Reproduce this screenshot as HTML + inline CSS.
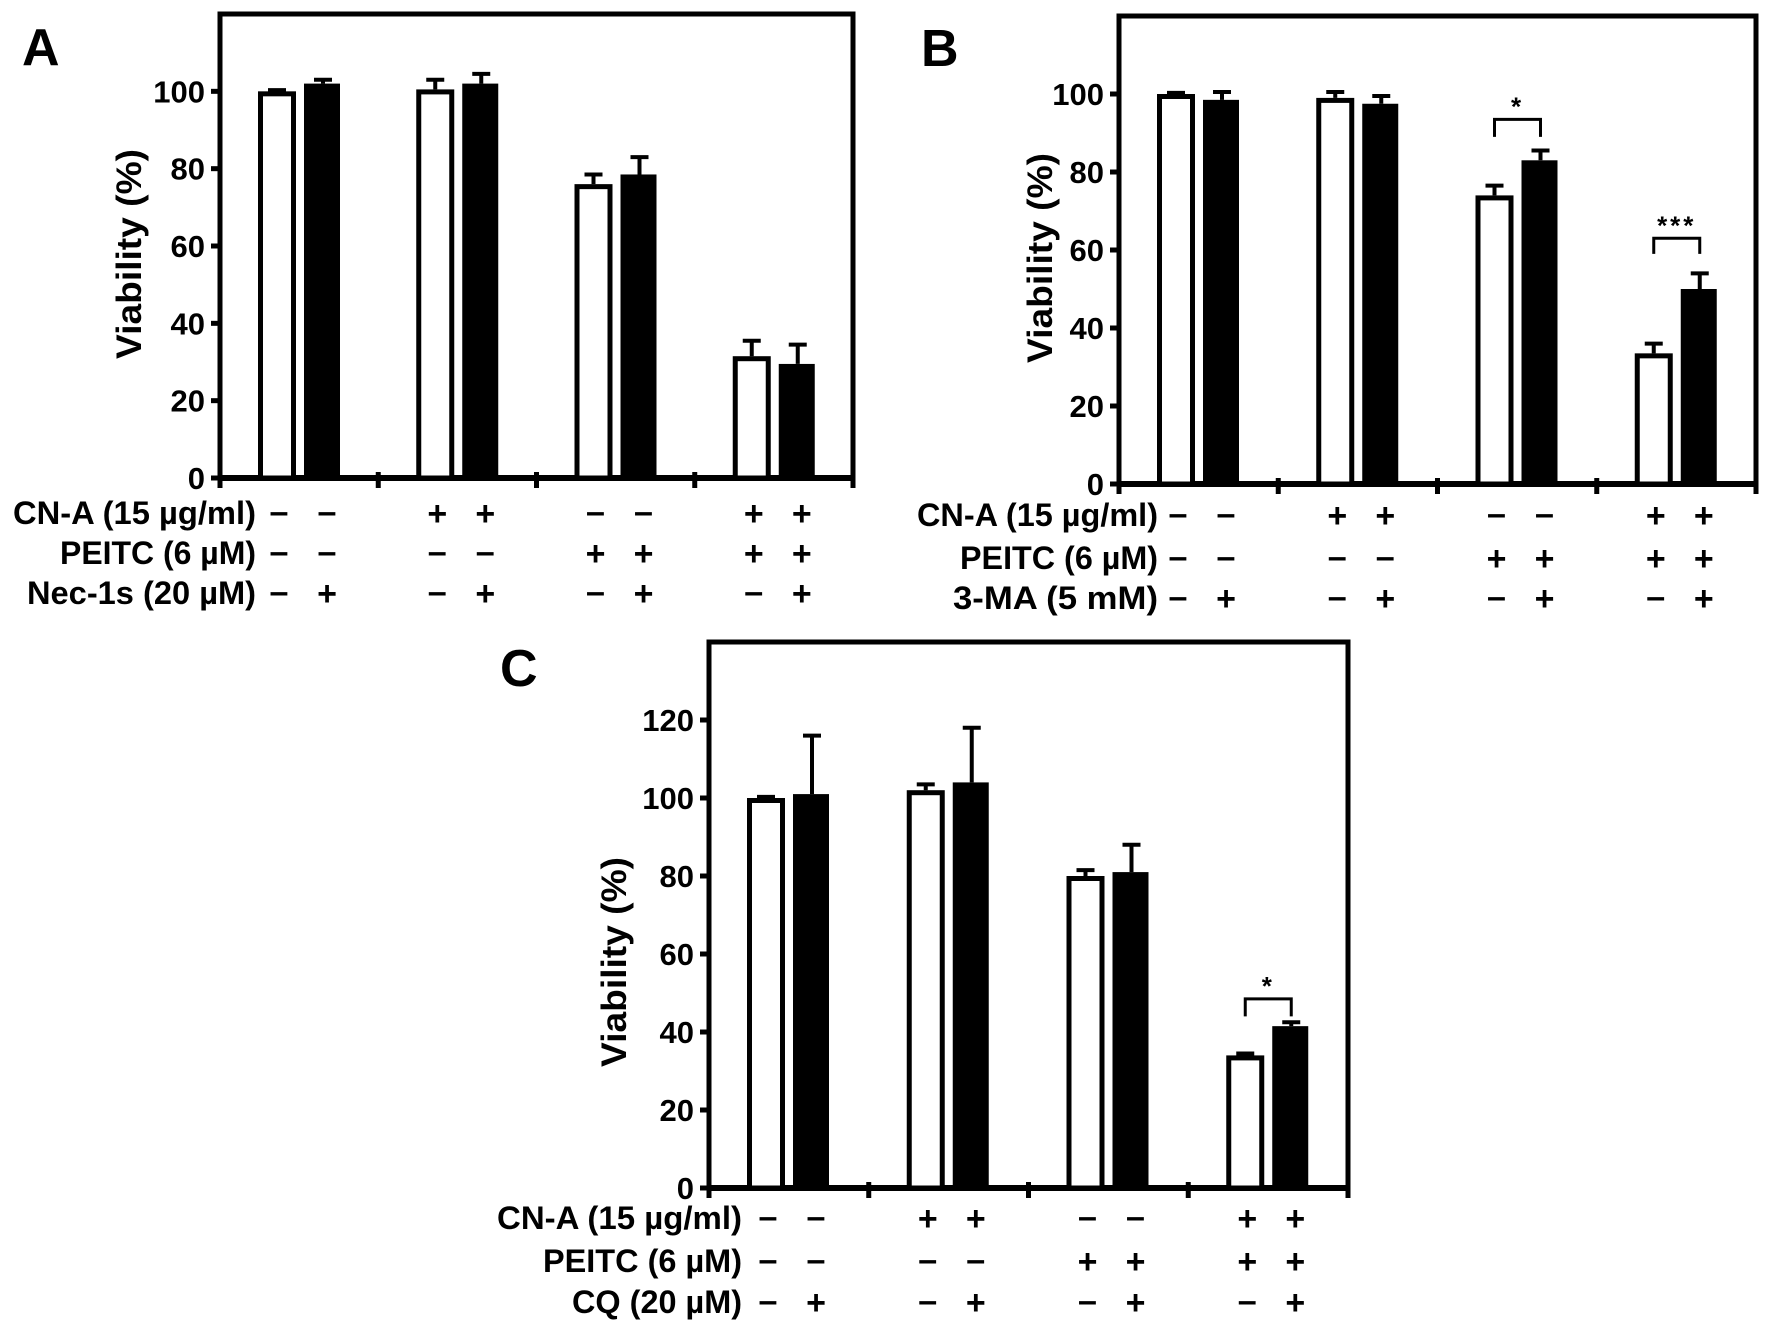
<!DOCTYPE html>
<html><head><meta charset="utf-8"><style>
html,body{margin:0;padding:0;background:#fff}
svg{display:block}
text{font-family:"Liberation Sans",Arial,sans-serif;font-weight:bold;fill:#000}
</style></head><body>
<svg id="fig" width="1772" height="1331" viewBox="0 0 1772 1331" xmlns="http://www.w3.org/2000/svg"></svg>
<script>
// Panel A data
const aWhite = [100, 100.5, 76, 31.5];
const aBlack = [102, 102, 78.5, 29.5];
const aWhiteErr = [0.3, 2.5, 2.5, 4];
const aBlackErr = [1, 2.5, 4.5, 5];
const aTicks = [0, 20, 40, 60, 80, 100];
const aRowLabels = ["CN-A (15 µg/ml)", "PEITC (6 µM)", "Nec-1s (20 µM)"];
// Panel B data
const bWhite = [100, 99, 74, 33.5];
const bBlack = [98.5, 97.5, 83, 50];
const bWhiteErr = [0.3, 1.5, 2.5, 2.5];
const bBlackErr = [2, 2, 2.5, 4];
const bTicks = [0, 20, 40, 60, 80, 100];
const bRowLabels = ["CN-A (15 µg/ml)", "PEITC (6 µM)", "3-MA (5 mM)"];
// Panel C data
const cWhite = [100, 102, 80, 34];
const cBlack = [101, 104, 81, 41.5];
const cWhiteErr = [0.3, 1.5, 1.5, 0.5];
const cBlackErr = [15, 14, 7, 1];
const cTicks = [0, 20, 40, 60, 80, 100, 120];
const cRowLabels = ["CN-A (15 µg/ml)", "PEITC (6 µM)", "CQ (20 µM)"];
// Treatment signs (shared): per row, 8 columns
const signRow1 = ["-", "-", "+", "+", "-", "-", "+", "+"];
const signRow2 = ["-", "-", "-", "-", "+", "+", "+", "+"];
const signRow3 = ["-", "+", "-", "+", "-", "+", "-", "+"];
// Significance annotations: [group, bracketTopValue, legBottomValue, label]
const bSig = [[2, 93.5, 89, "*"], [3, 63, 59, "***"]];
const cSig = [[3, 48.5, 44, "*"]];

const NS = "http://www.w3.org/2000/svg";
const svg = document.getElementById('fig');
function mk(tag, attrs, parent) {
  const e = document.createElementNS(NS, tag);
  for (const k in attrs) e.setAttribute(k, attrs[k]);
  (parent || svg).appendChild(e);
  return e;
}

function drawPanel(p) {
  const g = mk('g', {});
  
  
  const yS = v => p.base - (v / p.ymax) * (p.base - p.top);
  const seg = (p.right - p.left) / 4;
  const wx = i => p.left + i * seg + 38;
  const bw = 38, gap = 8;
  const bx = i => wx(i) + bw + gap;
  const cW = i => wx(i) + bw / 2, cB = i => bx(i) + bw / 2;

  const L = mk('text', {x: p.letterX, y: p.letterY, 'font-size': 52}, g);
  L.textContent = p.id;
  
  

  const fr = mk('path', {d: `M${p.left},${p.base} V${p.top} H${p.right} V${p.base}`, fill: 'none', stroke: '#000', 'stroke-width': 5}, g);
  
  
  const xa = mk('line', {x1: p.left - 2, x2: p.right + 2, y1: p.base, y2: p.base, stroke: '#000', 'stroke-width': 6}, g);
  
  
  for (let k = 0; k <= 4; k++) {
    const t = mk('line', {x1: p.left + k * seg, x2: p.left + k * seg, y1: p.base - 6, y2: p.base + 10, stroke: '#000', 'stroke-width': 5}, g);
    
    
  }
  p.ticks.forEach(v => {
    const t = mk('line', {x1: p.left - 9, x2: p.left, y1: yS(v), y2: yS(v), stroke: '#000', 'stroke-width': 5}, g);
    
    
    const tl = mk('text', {x: p.left - 15, y: yS(v) + 11, 'font-size': 31, 'text-anchor': 'end'}, g);
    tl.textContent = v;
    
    
  });
  const yt = mk('text', {x: 0, y: 0, 'font-size': 35, 'text-anchor': 'middle', textLength: 210, lengthAdjust: 'spacingAndGlyphs', transform: `translate(${p.ylabX},${p.ylabY}) rotate(-90)`}, g);
  yt.textContent = 'Viability (%)';
  
  

  for (let i = 0; i < 4; i++) {
    const yw = yS(p.white[i]);
    const ew = mk('path', {d: `M${cW(i)},${yw} V${yS(p.white[i] + p.whiteErr[i])} M${cW(i) - 9},${yS(p.white[i] + p.whiteErr[i])} H${cW(i) + 9}`, stroke: '#000', 'stroke-width': 4, fill: 'none'}, g);
    
    
    const r = mk('rect', {x: wx(i) + 2.5, y: yw + 2.5, width: bw - 5, height: p.base - yw - 2.5, fill: '#fff', stroke: '#000', 'stroke-width': 5}, g);
    
    
    const yb = yS(p.black[i]);
    const eb = mk('path', {d: `M${cB(i)},${yb} V${yS(p.black[i] + p.blackErr[i])} M${cB(i) - 9},${yS(p.black[i] + p.blackErr[i])} H${cB(i) + 9}`, stroke: '#000', 'stroke-width': 4, fill: 'none'}, g);
    
    
    const rb = mk('rect', {x: bx(i), y: yb, width: bw - 2, height: p.base - yb, fill: '#000'}, g);
    
    
  }
  p.sig.forEach(s => {
    const i = s[0];
    const br = mk('path', {d: `M${cW(i)},${yS(s[2])} V${yS(s[1])} H${cB(i)} V${yS(s[2])}`, fill: 'none', stroke: '#000', 'stroke-width': 3}, g);
    
    
    const st = mk('text', {x: (cW(i) + cB(i)) / 2, y: yS(s[1]) - 4, 'font-size': 26, 'font-weight': 'normal', 'text-anchor': 'middle', 'letter-spacing': 3}, g);
    st.textContent = s[3];
    
    
  });
  const rows = [signRow1, signRow2, signRow3];
  p.rowLabels.forEach((lab, r) => {
    const y = p.rowY[r];
    const t = mk('text', {x: p.labRight, y: y + 11, 'font-size': 32, 'text-anchor': 'end', textLength: p.labW[r], lengthAdjust: 'spacingAndGlyphs'}, g);
    t.textContent = lab;
    
    
    rows[r].forEach((sg, c) => {
      const grp = Math.floor(c / 2);
      const x = c % 2 === 0 ? cW(grp) + 2 : cB(grp) + 4;
      const s = mk('text', {x: x, y: y + (sg === '+' ? 12 : 10), 'font-size': 34, 'text-anchor': 'middle'}, g);
      s.textContent = sg === '-' ? '–' : '+';
      
      
    });
  });
}

drawPanel({id: 'A', left: 220, right: 853, top: 14, base: 478, ymax: 120, ticks: aTicks,
  white: aWhite, black: aBlack, whiteErr: aWhiteErr, blackErr: aBlackErr, sig: [],
  letterX: 22, letterY: 65, ylabX: 141, ylabY: 254, rowLabels: aRowLabels, rowY: [513, 553, 593], labRight: 256, labW: [243, 196, 229]});
drawPanel({id: 'B', left: 1119, right: 1756, top: 16, base: 484, ymax: 120, ticks: bTicks,
  white: bWhite, black: bBlack, whiteErr: bWhiteErr, blackErr: bBlackErr, sig: bSig,
  letterX: 921, letterY: 66, ylabX: 1052, ylabY: 258, rowLabels: bRowLabels, rowY: [515, 558, 598], labRight: 1158, labW: [241, 198, 205]});
drawPanel({id: 'C', left: 709, right: 1348, top: 642, base: 1188, ymax: 140, ticks: cTicks,
  white: cWhite, black: cBlack, whiteErr: cWhiteErr, blackErr: cBlackErr, sig: cSig,
  letterX: 500, letterY: 686, ylabX: 626, ylabY: 962, rowLabels: cRowLabels, rowY: [1218, 1261, 1302], labRight: 742, labW: [245, 199, 170]});
</script>
</body></html>
